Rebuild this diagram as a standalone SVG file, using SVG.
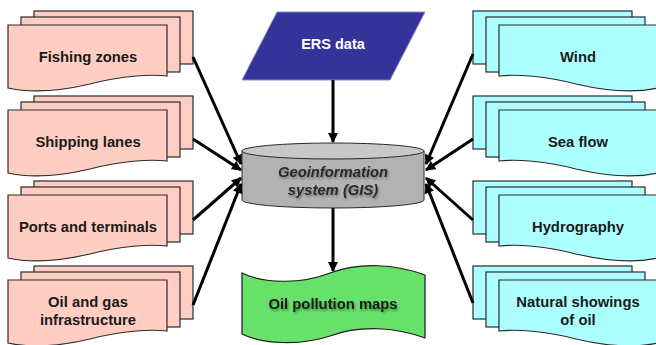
<svg xmlns="http://www.w3.org/2000/svg" xmlns:xlink="http://www.w3.org/1999/xlink" width="656" height="345" viewBox="0 0 656 345">
  <style>
    .sheet { stroke: #2a2a2a; stroke-width: 1.2; }
    .pink { fill: #ffcdc2; }
    .cyan { fill: #adffff; }
    .lbl { font-family: "Liberation Sans", Arial, sans-serif; font-size: 14.8px; font-weight: bold; fill: #1a1a1a; text-anchor: middle; }
    .gis { font-family: "Liberation Sans", Arial, sans-serif; font-size: 14.8px; font-weight: bold; font-style: italic; fill: #2a2a2a; text-anchor: middle; }
    .ers { font-family: "Liberation Sans", Arial, sans-serif; font-size: 14.5px; font-weight: bold; fill: #ffffff; text-anchor: middle; }
    .conn { stroke: #000; stroke-width: 3; fill: none; marker-end: url(#head); }
  </style>
  <defs>
    <marker id="head" viewBox="0 0 10 10" refX="9" refY="5" markerWidth="11" markerHeight="10" markerUnits="userSpaceOnUse" orient="auto">
      <path d="M0,0 L10,5 L0,10 Z" fill="#000"/>
    </marker>
    <filter id="soft" x="-10%" y="-30%" width="120%" height="160%">
      <feGaussianBlur in="SourceAlpha" stdDeviation="1.2"/>
      <feOffset dx="1" dy="1.5" result="b"/>
      <feComponentTransfer><feFuncA type="linear" slope="0.35"/></feComponentTransfer>
      <feMerge><feMergeNode/><feMergeNode in="SourceGraphic"/></feMerge>
    </filter>
    <!-- stack of three document sheets, drawn for the left column -->
    <g id="docStack">
      <rect class="sheet" x="34" y="11" width="159" height="53"/>
      <rect class="sheet" x="21" y="17" width="159" height="55"/>
      <path class="sheet" d="M8,25 H167 V76 C150,74 120,76 90,84 C60,91 30,93 8,88 Z"/>
    </g>
  </defs>

  <!-- left column -->
  <g id="fishing-zones">
    <use xlink:href="#docStack" class="pink"/>
    <text class="lbl" x="88" y="62">Fishing zones</text>
  </g>
  <g id="shipping-lanes">
    <use xlink:href="#docStack" class="pink" y="85"/>
    <text class="lbl" x="88" y="147">Shipping lanes</text>
  </g>
  <g id="ports-terminals">
    <use xlink:href="#docStack" class="pink" y="170"/>
    <text class="lbl" x="88" y="232">Ports and terminals</text>
  </g>
  <g id="oil-gas-infrastructure">
    <use xlink:href="#docStack" class="pink" y="255"/>
    <text class="lbl" x="88" y="307">Oil and gas</text>
    <text class="lbl" x="88" y="325">infrastructure</text>
  </g>

  <!-- right column (mirrored stacks) -->
  <g id="wind">
    <use xlink:href="#docStack" class="cyan" transform="translate(666,0) scale(-1,1)"/>
    <text class="lbl" x="578" y="62">Wind</text>
  </g>
  <g id="sea-flow">
    <use xlink:href="#docStack" class="cyan" transform="translate(666,85) scale(-1,1)"/>
    <text class="lbl" x="578" y="147">Sea flow</text>
  </g>
  <g id="hydrography">
    <use xlink:href="#docStack" class="cyan" transform="translate(666,170) scale(-1,1)"/>
    <text class="lbl" x="578" y="232">Hydrography</text>
  </g>
  <g id="natural-showings">
    <use xlink:href="#docStack" class="cyan" transform="translate(666,255) scale(-1,1)"/>
    <text class="lbl" x="578" y="307">Natural showings</text>
    <text class="lbl" x="578" y="325">of oil</text>
  </g>

  <!-- ERS data input -->
  <g id="ers-data">
    <path d="M277,12 H425 L390,80 H242 Z" fill="#333399" stroke="#8d8dc6" stroke-width="1"/>
    <text class="ers" x="333" y="49">ERS data</text>
  </g>

  <!-- GIS database cylinder -->
  <g id="gis">
    <path d="M242,151 V200 A91,8 0 0 0 424,200 V151 Z" fill="#b2b2b2" stroke="#2a2a2a" stroke-width="1"/>
    <ellipse cx="333" cy="151" rx="91" ry="8" fill="#c8c8c8" stroke="#2a2a2a" stroke-width="1"/>
    <g filter="url(#soft)">
      <text class="gis" x="333" y="177">Geoinformation</text>
      <text class="gis" x="333" y="195">system (GIS)</text>
    </g>
  </g>

  <!-- output map sheet -->
  <g id="oil-pollution-maps">
    <path d="M242,273 C262,283 300,285 330,273 C360,262 395,264 425,275 V338 C395,327 360,325 330,336 C300,346 262,344 242,334 Z" fill="#66e26a" stroke="#1a1a1a" stroke-width="1.2"/>
    <text class="lbl" x="333" y="309" filter="url(#soft)">Oil pollution maps</text>
  </g>

  <!-- connectors -->
  <g id="connectors">
    <line class="conn" x1="193" y1="57" x2="241" y2="164"/>
    <line class="conn" x1="193" y1="139" x2="241" y2="170"/>
    <line class="conn" x1="193" y1="220" x2="241" y2="178"/>
    <line class="conn" x1="193" y1="305" x2="241" y2="184"/>
    <line class="conn" x1="473" y1="54" x2="426" y2="164"/>
    <line class="conn" x1="473" y1="139" x2="426" y2="170"/>
    <line class="conn" x1="473" y1="220" x2="426" y2="178"/>
    <line class="conn" x1="473" y1="303" x2="426" y2="184"/>
    <line class="conn" x1="333" y1="80" x2="333" y2="142"/>
    <line class="conn" x1="333" y1="208" x2="333" y2="271"/>
  </g>
</svg>
